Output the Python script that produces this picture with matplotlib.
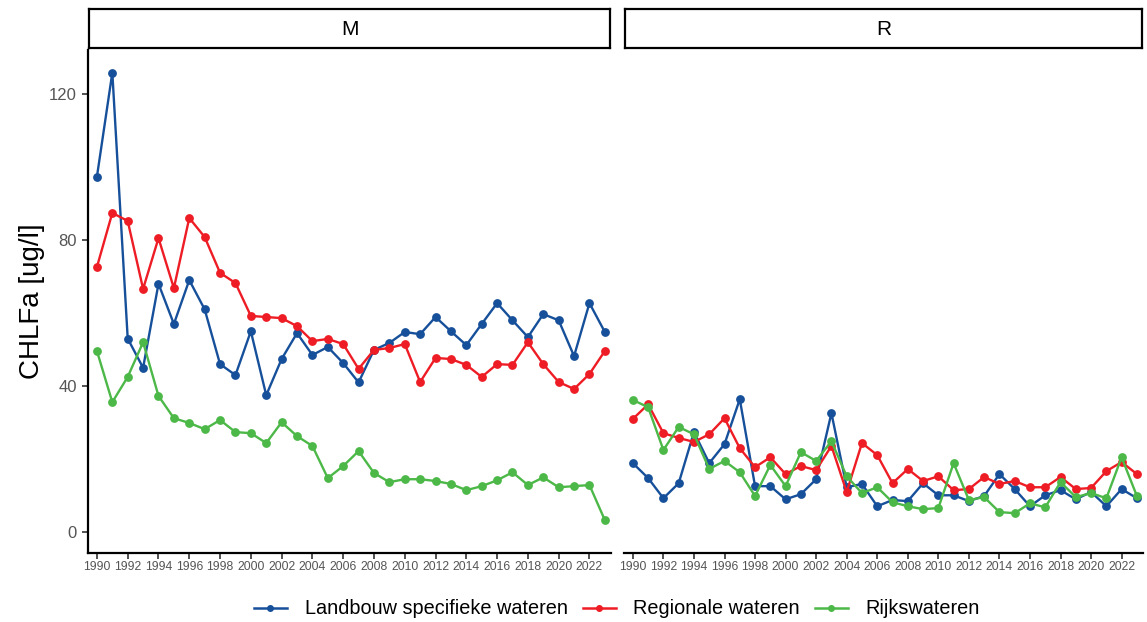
import matplotlib
matplotlib.use("Agg")
import matplotlib.pyplot as plt
from matplotlib.lines import Line2D

plt.rcParams['font.family'] = ['Liberation Sans', 'DejaVu Sans']

years = list(range(1990, 2024))
series_names = ["Landbouw specifieke wateren", "Regionale wateren", "Rijkswateren"]
colors = ["#17509A", "#EE1C24", "#4CB848"]

m_landbouw = [97.3, 125.8, 53.0, 45.0, 68.0, 57.0, 69.0, 61.0, 46.0, 43.0, 55.0, 37.5, 47.4, 54.5,
              48.5, 50.7, 46.3, 41.0, 49.9, 51.8, 54.8, 54.2, 58.9, 55.0, 51.2, 57.0, 62.7, 58.0,
              53.4, 59.7, 58.0, 48.2, 62.7, 54.8]
m_regionaal = [72.6, 87.4, 85.2, 66.6, 80.5, 66.8, 86.0, 80.8, 71.0, 68.2, 59.2, 58.9, 58.6, 56.4,
               52.3, 52.9, 51.5, 44.7, 49.9, 50.4, 51.5, 41.1, 47.7, 47.4, 45.8, 42.5, 46.0, 45.8,
               52.0, 46.0, 41.1, 39.2, 43.3, 49.6]
m_rijk = [49.6, 35.6, 42.5, 52.0, 37.3, 31.2, 29.9, 28.2, 30.7, 27.4, 27.1, 24.4, 30.1, 26.3,
          23.6, 14.8, 18.1, 22.2, 16.2, 13.7, 14.5, 14.5, 14.0, 13.2, 11.5, 12.6, 14.2, 16.4,
          12.9, 15.0, 12.3, 12.6, 12.9, 3.3]

r_landbouw = [18.9, 14.8, 9.3, 13.4, 27.4, 18.9, 24.1, 36.4, 12.6, 12.6, 9.0, 10.4, 14.5, 32.6,
              12.3, 13.2, 7.1, 8.8, 8.5, 13.4, 10.1, 10.1, 8.5, 9.9, 15.9, 11.8, 7.1, 10.1,
              11.5, 9.0, 11.0, 7.1, 11.8, 9.3]
r_regionaal = [31.0, 35.0, 27.1, 25.8, 24.7, 26.8, 31.2, 23.0, 17.8, 20.5, 15.9, 18.1, 17.0, 23.6,
               11.0, 24.4, 21.1, 13.4, 17.3, 14.0, 15.3, 11.5, 11.8, 15.1, 13.2, 14.0, 12.3, 12.3,
               15.1, 11.8, 12.1, 16.7, 19.2, 15.9]
r_rijk = [36.2, 34.2, 22.5, 28.8, 26.8, 17.3, 19.5, 16.4, 9.9, 18.4, 12.6, 21.9, 19.5, 24.9,
          15.3, 10.7, 12.3, 8.2, 7.1, 6.3, 6.6, 18.9, 8.8, 9.6, 5.5, 5.2, 7.9, 6.8,
          13.7, 9.6, 10.7, 9.3, 20.5, 9.9]

panels = ["M", "R"]
panel_data = {"M": [m_landbouw, m_regionaal, m_rijk], "R": [r_landbouw, r_regionaal, r_rijk]}
xticks = list(range(1990, 2023, 2))
yticks = [0, 40, 80, 120]

W, H = 1147, 622
fig = plt.figure(figsize=(W / 100, H / 100), dpi=100)

def px(x0, y0, x1, y1):
    return [x0 / W, 1 - y1 / H, (x1 - x0) / W, (y1 - y0) / H]

panel_x = [(88, 611), (624, 1143)]
for i, p in enumerate(panels):
    x0, x1 = panel_x[i]
    ax = fig.add_axes(px(x0, 50, x1, 553))
    for vals, c in zip(panel_data[p], colors):
        ax.plot(years, vals, color=c, lw=1.7, marker="o", ms=5.3, zorder=3)
    ax.set_xlim(1989.42, 2023.4)
    ax.set_ylim(-5.7, 132)
    ax.set_xticks(xticks)
    ax.set_xticklabels([str(t) for t in xticks], fontsize=8.8, color="#555555")
    ax.tick_params(axis="x", length=4, width=1.2, color="#333333", pad=2)
    ax.spines["top"].set_visible(False)
    ax.spines["right"].set_visible(False)
    ax.spines["bottom"].set_linewidth(1.6)
    if i == 0:
        ax.set_yticks(yticks)
        ax.set_yticklabels([str(t) for t in yticks], fontsize=12, color="#555555")
        ax.tick_params(axis="y", length=4, width=1.2, color="#333333", pad=4)
        ax.spines["left"].set_linewidth(1.6)
        ax.set_ylabel("CHLFa [ug/l]", fontsize=20, labelpad=3)
    else:
        ax.set_yticks([])
        ax.spines["left"].set_visible(False)
    # strip
    sax = fig.add_axes(px(x0 + 1, 9, x1 - 1, 48))
    sax.set_xticks([]); sax.set_yticks([])
    for s in sax.spines.values():
        s.set_linewidth(1.6)
    sax.text(0.5, 0.47, p, ha="center", va="center", fontsize=15, transform=sax.transAxes)

handles = [Line2D([0], [0], color=c, lw=1.8, marker="o", ms=4) for c in colors]
fig.legend(handles, series_names, loc="center", bbox_to_anchor=(617 / W, 1 - 609 / H),
           ncol=3, frameon=False, fontsize=14.3, handlelength=1.66, columnspacing=0.75,
           handletextpad=0.9, borderpad=0)

fig.savefig("out.png", dpi=100)
